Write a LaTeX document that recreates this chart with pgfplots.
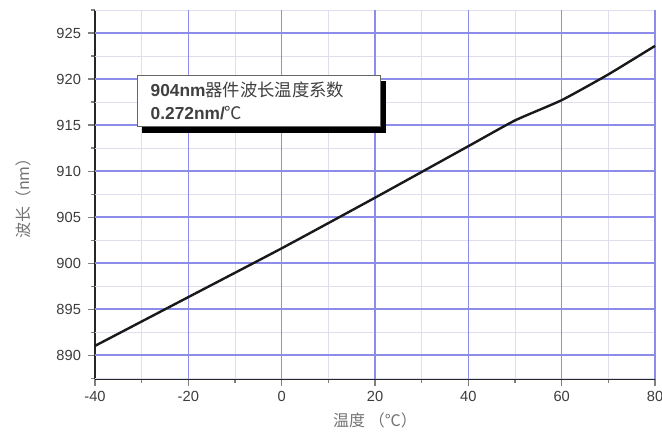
\documentclass[border=0pt]{standalone}
\usepackage{pgfplots}
\pgfplotsset{compat=1.18}
\usepackage{fontspec}
\setmainfont{Liberation Sans}
\newfontfamily\cjk{Noto Sans CJK SC}
\definecolor{majgrid}{RGB}{140,140,235}
\definecolor{mingrid}{RGB}{222,222,238}
\definecolor{ticktxt}{RGB}{60,60,60}
\begin{document}
\begin{tikzpicture}
\useasboundingbox (-71.25pt,-43.5pt) rectangle (425.25pt,284.25pt);
\begin{axis}[
  at={(0,0)}, anchor=south west,
  scale only axis, width=420pt, height=276.75pt,
  xmin=-40, xmax=80, ymin=887.4, ymax=927.5,
  xtick={-40,-20,...,80}, ytick={890,895,...,925},
  minor xtick={-30,-10,...,70}, minor ytick={887.5,892.5,...,927.5},
  axis x line*=bottom, axis y line*=left,
  axis line style={-, line width=0.9pt, black!85},
  major tick style={line width=0.8pt},
  minor tick style={line width=0.8pt},
  major tick length=5pt, minor tick length=3pt,
  tick align=outside,
  tick label style={font=\fontsize{11}{13}\selectfont, text=ticktxt},
  /pgf/number format/assume math mode=true,
  xticklabel style={yshift=-1pt},
  yticklabel style={xshift=-2pt},
  xlabel={\cjk 温度\ （℃）}, ylabel={\cjk 波长（nm）},
  label style={font=\fontsize{12}{14}\selectfont, text=black!55},
  xlabel style={yshift=-1pt},
  ylabel style={yshift=12pt},
  clip=false,
]
\pgfplotsinvokeforeach{-30,-10,10,30,50,70}{\draw[draw=mingrid, line width=0.6pt] (axis cs:#1,887.4) -- (axis cs:#1,927.5);}
\pgfplotsinvokeforeach{887.5,892.5,897.5,902.5,907.5,912.5,917.5,922.5,927.5}{\draw[draw=mingrid, line width=0.6pt] (axis cs:-40,#1) -- (axis cs:80,#1);}
\pgfplotsinvokeforeach{-20,0,20,40,60,80}{\draw[draw=majgrid, line width=1pt] (axis cs:#1,887.4) -- (axis cs:#1,927.5);}
\pgfplotsinvokeforeach{890,895,900,905,910,915,920,925}{\draw[draw=majgrid, line width=1pt] (axis cs:-40,#1) -- (axis cs:80,#1);}
\addplot[black!90, line width=1.8pt, smooth, tension=0.3] coordinates {
(-40,891.0) (-20,896.3) (0,901.6) (20,907.1) (40,912.7) (50,915.5) (60,917.7) (70,920.5) (80,923.6)
};
\node[anchor=north west, draw=black!60, fill=white, line width=0.5pt,
  align=left, inner xsep=10pt, inner ysep=5pt, text width=162pt,
  font=\fontsize{13}{17}\selectfont, text=black!75] (tb)
  at (axis cs:-31,920.4) {\textbf{904nm}{\cjk 器件波长温度系数}\\\textbf{0.272nm/}{\cjk ℃}};
\fill[black] ([xshift=4pt,yshift=-0.25pt]tb.south west) rectangle ([xshift=4.25pt,yshift=-4.5pt]tb.south east);
\fill[black] ([xshift=0.25pt,yshift=-4pt]tb.north east) rectangle ([xshift=4.5pt,yshift=-4.5pt]tb.south east);
\end{axis}
\end{tikzpicture}
\end{document}
